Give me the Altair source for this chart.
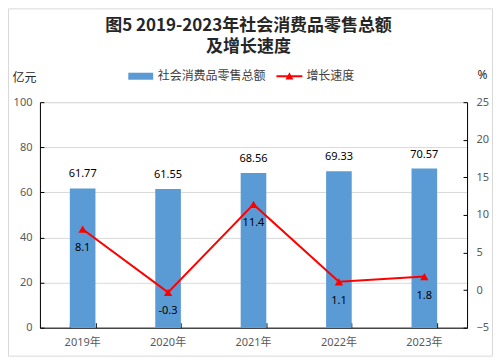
import altair as alt
import pandas as pd

# ---- data ----
years = ["2019年", "2020年", "2021年", "2022年", "2023年"]
sales = [61.77, 61.55, 68.56, 69.33, 70.57]
growth = [8.1, -0.3, 11.4, 1.1, 1.8]
series = ["社会消费品零售总额", "增长速度"]
title_lines = ["图5 2019-2023年社会消费品零售总额", "及增长速度"]
left_ticks = [0, 20, 40, 60, 80, 100]
right_ticks = [-5, 0, 5, 10, 15, 20, 25]

df = pd.DataFrame({"year": years, "sales": sales, "growth": growth})
df["sales_label"] = [f"{v:.2f}" for v in sales]
df["growth_label"] = [f"{v:.1f}" for v in growth]
legend_df = pd.DataFrame({"series": series})
frame_df = pd.DataFrame({"a": [0]})

FONT = "Noto Sans, Noto Sans CJK SC"
CJK = "Noto Sans CJK SC"
LABEL = "#595959"
BLUE = "#5B9BD5"
RED = "#FF0000"

W, H = 428, 226

xscale = alt.Scale(domain=years, paddingInner=0.7, paddingOuter=0.35)
x_main = alt.X("year:N", scale=xscale,
               axis=alt.Axis(orient="bottom", title=None, labelAngle=0,
                             ticks=False, tickSize=0, labelPadding=9,
                             domainColor="#000000", labelColor=LABEL,
                             labelFontSize=11, grid=False))
x_ticks = alt.X("year:N", scale=xscale,
                axis=alt.Axis(orient="bottom", title=None, labels=False,
                              domain=False, grid=False, ticks=True, tickSize=5,
                              tickBand="extent", tickColor="#000000", offset=-5))
x_none = alt.X("year:N", scale=xscale, axis=None)

def yl_scale():
    return alt.Scale(domain=[0, 100], nice=False, zero=False)

def yr_scale():
    return alt.Scale(domain=[-5, 25], nice=False, zero=False)

y_left_main = alt.Y("sales:Q", scale=yl_scale(),
                    axis=alt.Axis(orient="left", values=left_ticks, title="亿元",
                                  titleAngle=0, titleX=-16, titleY=-25,
                                  titleAlign="center", titleBaseline="middle",
                                  titleFontSize=12, titleFontWeight="normal",
                                  titleColor="#262626", titleFont=CJK, grid=True,
                                  gridColor="#d9d9d9", domainColor="#000000",
                                  ticks=False, tickSize=0, labelPadding=8,
                                  labelColor=LABEL, labelFontSize=11))
y_left_ticks = alt.Y("sales:Q", scale=yl_scale(),
                     axis=alt.Axis(values=left_ticks, orient="left", labels=False,
                                   domain=False, grid=False, title=None, ticks=True,
                                   tickSize=4, tickColor="#000000", offset=-4))
y_right_main = alt.Y("growth:Q", scale=yr_scale(),
                     axis=alt.Axis(values=right_ticks, orient="right", title="%",
                                   titleAngle=0, titleX=15, titleY=-28,
                                   titleAlign="center", titleBaseline="middle",
                                   titleFontSize=12, titleFontWeight="normal",
                                   titleColor="#262626", grid=False,
                                   domainColor="#000000", ticks=False, tickSize=0,
                                   labelPadding=9, labelColor=LABEL, labelFontSize=11))
y_right_ticks = alt.Y("growth:Q", scale=yr_scale(),
                      axis=alt.Axis(values=right_ticks, orient="right", labels=False,
                                    domain=False, grid=False, title=None, ticks=True,
                                    tickSize=4, tickColor="#000000", offset=-4))
y_right_none = alt.Y("growth:Q", scale=yr_scale(), axis=None)

base = alt.Chart(df)

bars = base.mark_bar(color=BLUE).encode(x=x_main, y=y_left_main)
bar_labels = base.mark_text(dy=-14, fontSize=11, color="#000000",
                            baseline="middle").encode(
    x=x_none, y=y_left_ticks, text="sales_label:N")
line = base.mark_line(color=RED, strokeWidth=2).encode(x=x_ticks, y=y_right_main)
points = base.mark_point(shape="triangle-up", filled=True, size=70, color=RED,
                         opacity=1).encode(x=x_none, y=y_right_none)
line_labels = base.mark_text(dy=19, fontSize=11, color="#000000",
                             baseline="middle").encode(
    x=x_none, y=y_right_ticks, text="growth_label:N")

rect_path = "M-0.96,-0.27H0.96V0.27H-0.96Z"
line_path = "M-1,-0.08H1V0.08H-1Z M-0.3,0.25L0,-0.3L0.3,0.25Z"
leg = alt.Legend(title=None, orient="none", legendX=88, legendY=-39,
                 direction="horizontal", padding=0, labelOffset=4,
                 columnPadding=10, labelFontSize=12, labelFont=CJK,
                 labelColor="#404040", symbolSize=676, symbolStrokeWidth=0,
                 symbolOpacity=1, labelLimit=300)
legend_layer = alt.Chart(legend_df).transform_filter("false").mark_point(
    filled=True, opacity=1).encode(
    color=alt.Color("series:N", scale=alt.Scale(domain=series, range=[BLUE, RED]),
                    legend=leg),
    shape=alt.Shape("series:N", scale=alt.Scale(domain=series,
                                                range=[rect_path, line_path]),
                    legend=leg),
)

frame = alt.Chart(frame_df).mark_rect(filled=False, stroke="#d9d9d9",
                                      strokeWidth=1).encode(
    x=alt.value(-31.5), x2=alt.value(453.5), y=alt.value(-93.5), y2=alt.value(254.5))

chart = alt.layer(bars, bar_labels, line, points, line_labels, legend_layer,
                  frame).resolve_scale(y="independent").resolve_axis(
    x="independent").properties(
    width=W, height=H,
    padding={"left": 32, "top": 94, "right": 26, "bottom": 29},
    autosize=alt.AutoSizeParams(type="none"),
    title=alt.Title(title_lines, anchor="middle", dx=-5, dy=2, offset=-46,
                    fontSize=17, font=CJK, fontWeight="bold", color="#262626",
                    lineHeight=21),
).configure_view(stroke=None).configure(background="white", font=FONT)

chart.save("out.html", embed_options={"renderer": "svg", "actions": False})
